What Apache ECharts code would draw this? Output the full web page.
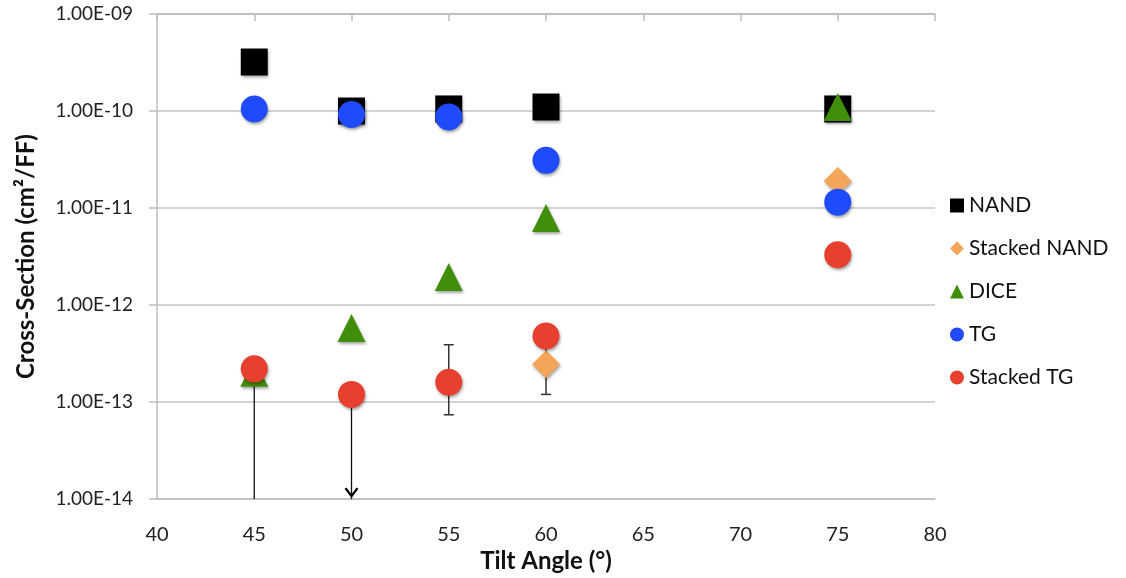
<!DOCTYPE html>
<html>
<head>
<meta charset="utf-8">
<script src="https://cdn.jsdelivr.net/npm/echarts@6/dist/echarts.min.js"></script>
<style>
html,body{margin:0;padding:0;background:#fff;}
#main{width:1126px;height:578px;}
</style>
</head>
<body>
<div id="main"></div>
<script>
// ---- data ----
const angles      = [45, 50, 55, 60, 75];
const nand        = [3.2e-10, 1.0e-10, 1.05e-10, 1.1e-10, 1.05e-10];
const stackedNand = [null, null, null, 2.45e-13, 1.9e-11];
const dice        = [2.0e-13, 5.8e-13, 1.95e-12, 7.9e-12, 1.1e-10];
const tg          = [1.05e-10, 0.92e-10, 0.87e-10, 3.1e-11, 1.15e-11];
const stackedTg   = [2.2e-13, 1.2e-13, 1.6e-13, 4.8e-13, 3.3e-12];

// error bars: angle, low, high, caps(1/0), arrow(1/0)
const errAngles = [45, 50, 55, 60];
const errLow    = [1e-14, 1e-14, 7.4e-14, 1.2e-13];
const errHigh   = [2.2e-13, 1.2e-13, 3.9e-13, 4.6e-13];
const errCaps   = [0, 0, 1, 1];
const errArrow  = [0, 1, 0, 0];

const yTickLabels = ['1.00E-14','1.00E-13','1.00E-12','1.00E-11','1.00E-10','1.00E-09'];
const xTickLabels = ['40','45','50','55','60','65','70','75','80'];

const FONT = 'Lato, "Noto Sans", sans-serif';

function pts(vals){
  const out = [];
  angles.forEach((a,i)=>{ if(vals[i]!=null) out.push([a, vals[i]]); });
  return out;
}

const shadow = {shadowBlur: 3, shadowColor: 'rgba(0,0,0,0.35)', shadowOffsetX: 1, shadowOffsetY: 2};

function scatter(name, vals, symbol, color, size){
  return {
    name, type: 'scatter', data: pts(vals), symbol, symbolSize: size,
    itemStyle: Object.assign({color, opacity: 1}, shadow),
    emphasis: {disabled: true},
    z: 3
  };
}

const chart = echarts.init(document.getElementById('main'), null, {renderer: 'canvas'});

const option = {
  backgroundColor: '#fff',
  animation: false,
  textStyle: {fontFamily: FONT},
  grid: {left: 157, right: 191, top: 14, bottom: 73, containLabel: false},
  legend: {
    orient: 'vertical', left: 945, top: 190,
    itemWidth: 14, itemHeight: 14, itemGap: 22,
    textStyle: {fontSize: 21, color: '#111', fontFamily: FONT},
    data: ['NAND', 'Stacked NAND', 'DICE', 'TG', 'Stacked TG']
  },
  xAxis: [{
    type: 'value', min: 40, max: 80, interval: 5, position: 'bottom',
    axisLine: {show: true, lineStyle: {color: '#bdbdbd', width: 1.5}},
    axisTick: {show: false},
    splitLine: {show: false},
    axisLabel: {fontSize: 20, color: '#222', margin: 25, fontFamily: FONT,
      formatter: (v, i) => xTickLabels[i]},
    name: 'Tilt Angle (°)', nameLocation: 'middle', nameGap: 42,
    nameTextStyle: {fontSize: 24, fontWeight: 'bold', color: '#111', fontFamily: FONT}
  },{
    type: 'value', min: 40, max: 80, interval: 5, position: 'top',
    axisLine: {show: true, lineStyle: {color: '#bdbdbd', width: 1.5}},
    axisTick: {show: true, inside: true, length: 7, lineStyle: {color: '#bdbdbd', width: 1.5}},
    splitLine: {show: false},
    axisLabel: {show: false}
  }],
  yAxis: {
    type: 'log', logBase: 10, min: 1e-14, max: 1e-9, interval: 1,
    axisLine: {show: true, lineStyle: {color: '#bdbdbd', width: 1.5}},
    axisTick: {show: true, length: 8, lineStyle: {color: '#bdbdbd', width: 1.5}},
    minorTick: {show: false},
    splitLine: {show: true, lineStyle: {color: '#c4c4c4', width: 1.5}},
    axisLabel: {fontSize: 19, color: '#222', margin: 24, fontFamily: FONT,
      formatter: (v, i) => yTickLabels[i]},
    name: 'Cross-Section (cm²/FF)', nameLocation: 'middle', nameGap: 119, nameRotate: 90,
    nameTextStyle: {fontSize: 24, fontWeight: 'bold', color: '#111', fontFamily: FONT}
  },
  series: [
    {
      name: 'errbars', type: 'custom', z: 2,
      data: errAngles.map((a,i)=>[a, errLow[i], errHigh[i], errCaps[i], errArrow[i]]),
      encode: {x: 0, y: [1, 2]},
      renderItem: function(params, api){
        const x = api.value(0);
        const lo = api.coord([x, api.value(1)]);
        const hi = api.coord([x, api.value(2)]);
        const caps = api.value(3), arrow = api.value(4);
        const color = caps ? '#333' : '#111';
        const st = {stroke: color, lineWidth: caps ? 1.5 : 1.3, fill: null};
        const children = [{type: 'line', shape: {x1: lo[0], y1: lo[1], x2: hi[0], y2: hi[1]}, style: st}];
        if (caps) {
          children.push({type: 'line', shape: {x1: lo[0]-5, y1: lo[1], x2: lo[0]+5, y2: lo[1]}, style: st});
          children.push({type: 'line', shape: {x1: hi[0]-5, y1: hi[1], x2: hi[0]+5, y2: hi[1]}, style: st});
        }
        if (arrow) {
          children.push({type: 'polyline', shape: {points: [[lo[0]-6, lo[1]-11], [lo[0], lo[1]-3], [lo[0]+6, lo[1]-11]]},
            style: {stroke: '#000', lineWidth: 2.4, fill: null}});
        }
        return {type: 'group', children};
      },
      silent: true
    },
    scatter('NAND', nand, 'rect', '#000000', 27),
    scatter('Stacked NAND', stackedNand, 'diamond', '#f3a65a', 28),
    scatter('DICE', dice, 'triangle', '#418e0b', 28),
    scatter('TG', tg, 'circle', '#1f4bfd', 27),
    scatter('Stacked TG', stackedTg, 'circle', '#e8402f', 27)
  ]
};
chart.setOption(option);
</script>
</body>
</html>
